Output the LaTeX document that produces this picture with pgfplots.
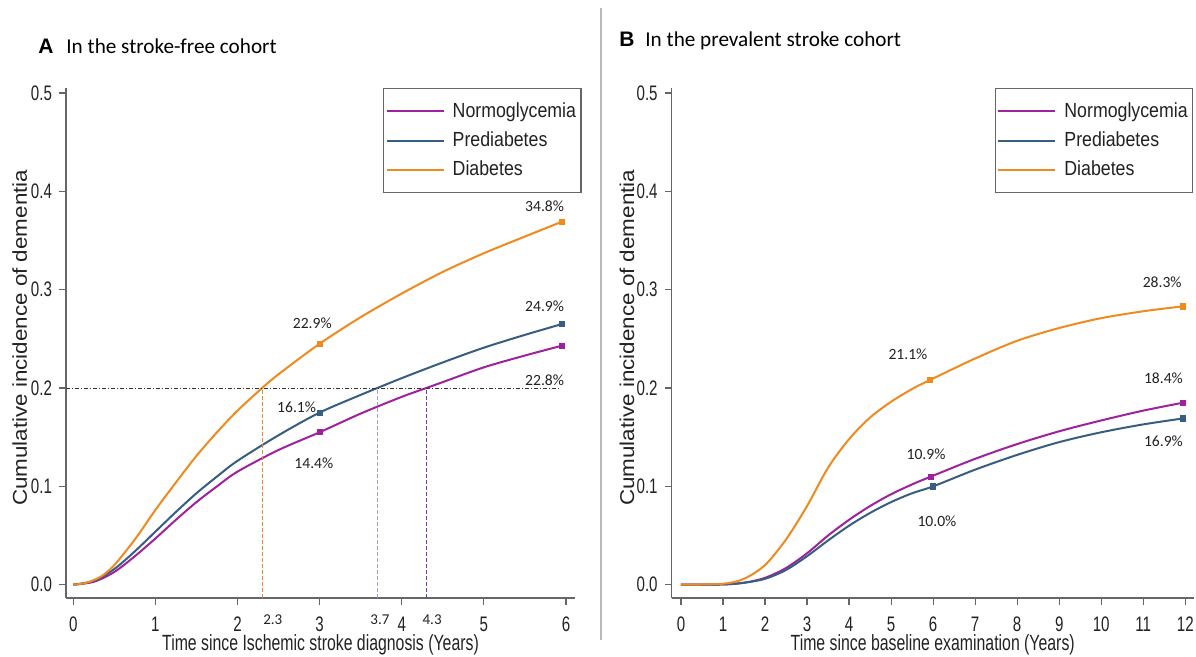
\documentclass[border=0pt]{standalone}
\usepackage{fontspec}
\setmainfont{Liberation Sans}
\newfontfamily\narrowfont{Liberation Sans}[FakeStretch=0.72]
\newfontfamily\legfont{Liberation Sans}[FakeStretch=0.87]
\newfontfamily\ylabfont{Liberation Sans}[FakeStretch=1.12]
\newfontfamily\calfont{Carlito}
\usepackage{pgfplots}
\pgfplotsset{compat=1.18}
\definecolor{cpur}{HTML}{9E229E}
\definecolor{cblu}{HTML}{375D80}
\definecolor{cora}{HTML}{EF8A1F}
\definecolor{caxis}{HTML}{666666}
\definecolor{ctxt}{HTML}{222222}
\definecolor{clav}{HTML}{9A9AE0}
\definecolor{cvio}{HTML}{7A35B8}
\tikzset{pct/.style={font=\calfont\fontsize{7.8}{9}\selectfont, text=ctxt, inner sep=0pt}}
\pgfplotsset{
 mystyle/.style={
  scale only axis, height=255pt,
  axis x line*=bottom, axis y line*=left,
  axis line style={caxis, line width=0.75pt},
  tick align=outside, major tick length=3.5pt,
  tick style={caxis, line width=0.6pt},
  ytick={0,0.1,0.2,0.3,0.4,0.5},
  yticklabel style={/pgf/number format/.cd, fixed, fixed zerofill, precision=1, /tikz/.cd},
  xticklabel style={yshift=-2.5pt},
  /pgf/number format/assume math mode=true,
  tick label style={font=\narrowfont\fontsize{10.5}{11}\selectfont, text=ctxt},
  clip=false,
  ymin=-0.0135, ymax=0.505,
  legend cell align=left,
  legend style={draw=caxis, line width=0.6pt, font=\legfont\fontsize{10.2}{11}\selectfont, text=ctxt, anchor=north west, inner xsep=1pt, inner ysep=5.5pt, row sep=2.7pt, column sep=2.5pt, nodes={inner sep=1.5pt}},
  legend image code/.code={\draw[#1, line width=1pt] (0pt,0pt) -- (28.5pt,0pt);},
  xlabel style={font=\narrowfont\fontsize{11}{12}\selectfont, text=ctxt, anchor=base},
  ylabel style={font=\ylabfont\fontsize{10}{12}\selectfont, text=ctxt, anchor=center},
 },
}
\begin{document}
\begin{tikzpicture}
\path[use as bounding box] (0pt,0pt) rectangle (598pt,-328.5pt);
\draw[gray!55, line width=0.75pt] (300.5pt,-4pt) -- (300.5pt,-320pt);
\node[anchor=base west, inner sep=0pt, font=\bfseries\fontsize{10.5}{12}\selectfont] at (19pt,-27pt) {A};
\node[anchor=base west, inner sep=0pt, font=\calfont\fontsize{10.6}{12}\selectfont] at (33pt,-27pt) {In the stroke-free cohort};
\node[anchor=base west, inner sep=0pt, font=\bfseries\fontsize{10.5}{12}\selectfont] at (309.5pt,-23.3pt) {B};
\node[anchor=base west, inner sep=0pt, font=\calfont\fontsize{10.6}{12}\selectfont] at (322.5pt,-23.3pt) {In the prevalent stroke cohort};

% Panel A
\begin{axis}[mystyle, at={(33pt,-299pt)}, anchor=south west, width=254.5pt,
  xmin=-0.089, xmax=6.11, xtick={0,1,2,3,4,5,6},
  xlabel={Time since Ischemic stroke diagnosis (Years)},
  ylabel={Cumulative incidence of dementia},
  xlabel style={at={(axis description cs:0.5,-0.103)}},
  ylabel style={at={(axis description cs:-0.091,0.51)}},
  legend style={at={(axis description cs:0.623,1)}},
]
\addplot[cpur, line width=1pt, smooth] coordinates {(0,0) (0.25,0.003) (0.5,0.013) (0.75,0.029) (1,0.047) (1.25,0.066) (1.5,0.084) (1.75,0.1) (2,0.115) (2.5,0.137) (3,0.155) (3.5,0.174) (4,0.191) (4.3,0.2) (4.5,0.206) (5,0.221) (5.5,0.233) (5.95,0.243)};
\addlegendentry{Normoglycemia}
\addplot[cblu, line width=1pt, smooth] coordinates {(0,0) (0.25,0.004) (0.5,0.016) (0.75,0.034) (1,0.054) (1.25,0.074) (1.5,0.093) (1.75,0.11) (2,0.126) (2.5,0.152) (3,0.175) (3.5,0.193) (4,0.21) (4.5,0.226) (5,0.241) (5.5,0.254) (5.95,0.265)};
\addlegendentry{Prediabetes}
\addplot[cora, line width=1pt, smooth] coordinates {(0,0) (0.1,0.001) (0.2,0.003) (0.35,0.009) (0.5,0.02) (0.75,0.046) (1,0.076) (1.25,0.104) (1.5,0.131) (1.75,0.155) (2,0.177) (2.3,0.2) (2.5,0.214) (3,0.245) (3.5,0.272) (4,0.296) (4.5,0.318) (5,0.337) (5.5,0.354) (5.95,0.369)};
\addlegendentry{Diabetes}
\addplot[forget plot, only marks, mark=square*, mark size=1.3pt, cpur] coordinates {(3,0.155) (5.95,0.243)};
\addplot[forget plot, only marks, mark=square*, mark size=1.3pt, cblu] coordinates {(3,0.175) (5.95,0.265)};
\addplot[forget plot, only marks, mark=square*, mark size=1.3pt, cora] coordinates {(3,0.245) (5.95,0.369)};
\addplot[forget plot, black!80, line width=0.4pt, dash pattern=on 2pt off 1pt on 0.5pt off 1pt] coordinates {(-0.089,0.2) (5.93,0.2)};
\addplot[forget plot, cora, line width=0.5pt, dash pattern=on 2pt off 1pt] coordinates {(2.3,-0.0135) (2.3,0.2)};
\addplot[forget plot, clav, line width=0.5pt, dash pattern=on 2pt off 1pt] coordinates {(3.7,-0.0135) (3.7,0.2)};
\addplot[forget plot, cvio, line width=0.5pt, dash pattern=on 2pt off 1pt] coordinates {(4.3,-0.0135) (4.3,0.2)};
\node[pct] at (axis cs:5.74,0.385) {34.8\%};
\node[pct] at (axis cs:5.74,0.283) {24.9\%};
\node[pct] at (axis cs:2.91,0.266) {22.9\%};
\node[pct] at (axis cs:5.74,0.208) {22.8\%};
\node[pct] at (axis cs:2.72,0.180) {16.1\%};
\node[pct] at (axis cs:2.93,0.124) {14.4\%};
\node[pct, font=\calfont\fontsize{7.5}{9}\selectfont] at (axis cs:2.43,-0.036) {2.3};
\node[pct, font=\calfont\fontsize{7.5}{9}\selectfont] at (axis cs:3.735,-0.036) {3.7};
\node[pct, font=\calfont\fontsize{7.5}{9}\selectfont] at (axis cs:4.37,-0.036) {4.3};
\end{axis}

% Panel B
\begin{axis}[mystyle, at={(335.85pt,-299pt)}, anchor=south west, width=261pt,
  xmin=-0.221, xmax=12.2, xtick={0,1,2,3,4,5,6,7,8,9,10,11,12},
  xlabel={Time since baseline examination (Years)},
  ylabel={Cumulative incidence of dementia},
  xlabel style={at={(axis description cs:0.5,-0.103)}},
  ylabel style={at={(axis description cs:-0.0856,0.51)}},
  legend style={at={(axis description cs:0.619,1)}},
]
\addplot[cpur, line width=1pt, smooth] coordinates {(0,0) (1,0.0003) (1.5,0.002) (2,0.007) (2.5,0.017) (3,0.032) (3.5,0.05) (4,0.066) (4.5,0.08) (5,0.092) (5.5,0.102) (5.95,0.110) (7,0.128) (8,0.143) (9,0.156) (10,0.167) (11,0.177) (11.94,0.185)};
\addlegendentry{Normoglycemia}
\addplot[cblu, line width=1pt, smooth] coordinates {(0,0) (1,0.0003) (1.5,0.002) (2,0.006) (2.5,0.015) (3,0.029) (3.5,0.045) (4,0.06) (4.5,0.073) (5,0.084) (5.5,0.093) (6,0.100) (7,0.117) (8,0.132) (9,0.145) (10,0.155) (11,0.163) (11.94,0.169)};
\addlegendentry{Prediabetes}
\addplot[cora, line width=1pt, smooth] coordinates {(0,0) (1,0.001) (1.5,0.006) (2,0.02) (2.5,0.046) (3,0.08) (3.5,0.119) (4,0.148) (4.5,0.17) (5,0.186) (5.5,0.199) (5.92,0.208) (7,0.23) (8,0.248) (9,0.261) (10,0.271) (11,0.278) (11.94,0.283)};
\addlegendentry{Diabetes}
\addplot[forget plot, only marks, mark=square*, mark size=1.3pt, cpur] coordinates {(5.95,0.110) (11.94,0.185)};
\addplot[forget plot, only marks, mark=square*, mark size=1.3pt, cblu] coordinates {(6,0.100) (11.94,0.169)};
\addplot[forget plot, only marks, mark=square*, mark size=1.3pt, cora] coordinates {(5.92,0.208) (11.94,0.283)};
\node[pct] at (axis cs:11.45,0.3076) {28.3\%};
\node[pct] at (axis cs:5.40,0.2344) {21.1\%};
\node[pct] at (axis cs:11.48,0.210) {18.4\%};
\node[pct] at (axis cs:5.83,0.1327) {10.9\%};
\node[pct] at (axis cs:11.48,0.1455) {16.9\%};
\node[pct] at (axis cs:6.09,0.0648) {10.0\%};
\end{axis}
\end{tikzpicture}
\end{document}
